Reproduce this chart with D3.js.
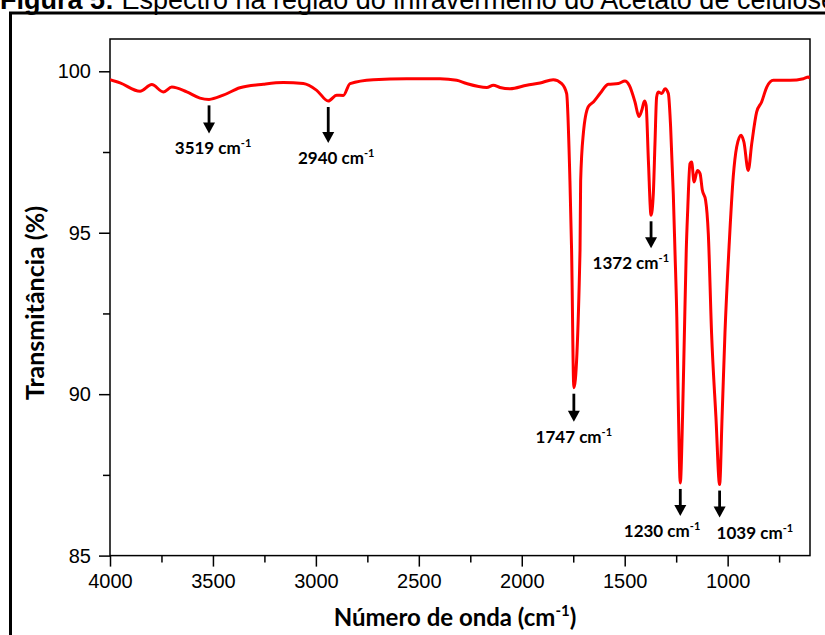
<!DOCTYPE html>
<html>
<head>
<meta charset="utf-8">
<script src="https://cdn.jsdelivr.net/npm/d3@7"></script>
<style>
  body { margin: 0; background: #fff; }
  svg { display: block; }
</style>
</head>
<body>
<svg id="chart" width="825" height="635"></svg>
<script>
// FTIR spectrum of cellulose acetate: wavenumber (cm-1) and transmittance (%)
const wavenumber = [
  4000, 3951, 3854, 3797, 3741, 3700, 3627, 3563, 3519, 3450,
  3369, 3255, 3158, 3061, 2996, 2940, 2899, 2867, 2834, 2721,
  2559, 2397, 2316, 2268, 2170, 2138, 2106, 2057, 1976, 1911,
  1847, 1806, 1782, 1766, 1758, 1747, 1717, 1714, 1701, 1677,
  1652, 1620, 1580, 1531, 1499, 1478, 1450, 1431, 1417, 1404,
  1396, 1385, 1372, 1361, 1353, 1345, 1337, 1320, 1304, 1288,
  1277, 1264, 1256, 1247, 1240, 1230, 1219, 1210, 1201, 1194,
  1183, 1175, 1163, 1147, 1134, 1123, 1107, 1094, 1078, 1057,
  1039, 1027, 1013, 992, 973, 956, 935, 921, 900, 883,
  859, 835, 810, 778, 697, 632, 608, 600
];
const transmittance = [
  99.74, 99.64, 99.38, 99.59, 99.36, 99.51, 99.36, 99.17, 99.13, 99.26,
  99.49, 99.60, 99.65, 99.62, 99.41, 99.08, 99.26, 99.25, 99.62, 99.74,
  99.77, 99.77, 99.72, 99.62, 99.50, 99.57, 99.50, 99.46, 99.57, 99.64,
  99.74, 99.62, 99.31, 96.60, 94.46, 90.20, 94.46, 96.60, 98.07, 98.90,
  99.05, 99.31, 99.60, 99.62, 99.70, 99.57, 99.05, 98.60, 98.79, 99.08,
  98.95, 97.24, 95.54, 96.21, 97.76, 99.20, 99.36, 99.31, 99.46, 99.31,
  98.28, 96.20, 94.46, 92.40, 89.80, 87.25, 89.30, 91.90, 94.46, 95.70,
  97.14, 97.19, 96.57, 96.93, 96.83, 96.32, 96.00, 94.98, 91.88, 89.30,
  87.20, 89.30, 91.90, 94.70, 96.72, 97.66, 98.02, 97.81, 96.93, 97.76,
  98.74, 99.05, 99.51, 99.72, 99.72, 99.77, 99.82, 99.78
];

// Axis ticks
const xTickValues = [4000, 3500, 3000, 2500, 2000, 1500, 1000];
const xMinorTicks = [3750, 3250, 2750, 2250, 1750, 1250, 750];
const yTickValues = [85, 90, 95, 100];
const yMinorTicks = [87.5, 92.5, 97.5];

// Labelled absorption bands (cm-1)
const bandPositions = [3519, 2940, 1747, 1372, 1230, 1039];

// Texts
const titleBold = "Figura 5:";
const titleRest = " Espectro na região do infravermelho do Acetato de celulose";
const xTitle = "Número de onda (cm";
const yTitle = "Transmitância (%)";

const svg = d3.select("#chart");
const plot = { left: 110, right: 810, top: 39, bottom: 555.6 };

const x = d3.scaleLinear().domain([4000, 600]).range([plot.left, plot.right]);
const y = d3.scaleLinear().domain([85, 101]).range([plot.bottom, plot.top]);

// Figure title, partly above the page edge
const title = svg.append("text")
  .attr("x", 0).attr("y", 9)
  .attr("font-family", "'Liberation Sans', Arial, sans-serif")
  .attr("font-size", 27)
  .attr("fill", "#000");
title.append("tspan").attr("font-weight", "bold").text(titleBold);
title.append("tspan").attr("font-weight", "normal").text(titleRest);

// Outer figure frame
svg.append("rect")
  .attr("x", 10.5).attr("y", 13)
  .attr("width", 900).attr("height", 800)
  .attr("fill", "none").attr("stroke", "#000").attr("stroke-width", 3);

// Clip for the spectrum
svg.append("defs").append("clipPath").attr("id", "plot-clip")
  .append("rect")
  .attr("x", plot.left).attr("y", plot.top)
  .attr("width", plot.right - plot.left).attr("height", plot.bottom - plot.top);

const tickFont = "'Liberation Sans', Arial, sans-serif";

// X axis (major + minor)
svg.append("g")
  .attr("transform", `translate(0,${plot.bottom})`)
  .call(d3.axisBottom(x).tickValues(xTickValues).tickSize(11).tickPadding(7)
    .tickFormat(d3.format("d")));
svg.append("g")
  .attr("transform", `translate(0,${plot.bottom})`)
  .call(d3.axisBottom(x).tickValues(xMinorTicks).tickSize(7).tickFormat(""));

// Y axis (major + minor)
svg.append("g")
  .attr("transform", `translate(${plot.left},0)`)
  .call(d3.axisLeft(y).tickValues(yTickValues).tickSize(11).tickPadding(8)
    .tickFormat(d3.format("d")));
svg.append("g")
  .attr("transform", `translate(${plot.left},0)`)
  .call(d3.axisLeft(y).tickValues(yMinorTicks).tickSize(7).tickFormat(""));

svg.selectAll(".tick line").attr("stroke", "#000").attr("stroke-width", 1.5);
svg.selectAll(".domain").remove();
svg.selectAll(".tick text")
  .attr("font-family", tickFont).attr("font-size", 20).attr("fill", "#000");

// Plot frame
svg.append("rect")
  .attr("x", plot.left).attr("y", plot.top)
  .attr("width", plot.right - plot.left).attr("height", plot.bottom - plot.top)
  .attr("fill", "none").attr("stroke", "#000").attr("stroke-width", 1.5);

// Spectrum
const points = wavenumber.map((w, i) => [w, transmittance[i]]);
svg.append("path")
  .datum(points)
  .attr("clip-path", "url(#plot-clip)")
  .attr("fill", "none")
  .attr("stroke", "#ff0000")
  .attr("stroke-width", 3)
  .attr("stroke-linejoin", "round")
  .attr("d", d3.line().x(d => x(d[0])).y(d => y(d[1])).curve(d3.curveMonotoneX));

// Band annotations: arrow under each minimum and a label
const labelLayout = {
  3519: { anchor: "middle", dx: 4, len: 28 },
  2940: { anchor: "middle", dx: 8, len: 36 },
  1747: { anchor: "middle", dx: 0, len: 28 },
  1372: { anchor: "end", dx: 18, len: 27 },
  1230: { anchor: "end", dx: 20, len: 27 },
  1039: { anchor: "start", dx: -3, len: 27 }
};
const annoFont = "Lato, 'Open Sans', sans-serif";
const ann = svg.append("g");
bandPositions.forEach(w => {
  const t = transmittance[wavenumber.indexOf(w)];
  const lay = labelLayout[w];
  const ax = x(w);
  const y0 = y(t) + 6;
  const y1 = y0 + lay.len;
  ann.append("line")
    .attr("x1", ax).attr("x2", ax)
    .attr("y1", y0).attr("y2", y1 - 8)
    .attr("stroke", "#000").attr("stroke-width", 2.8);
  ann.append("path")
    .attr("d", `M${ax - 6},${y1 - 11} L${ax + 6},${y1 - 11} L${ax},${y1} Z`)
    .attr("fill", "#000");
  const label = ann.append("text")
    .attr("x", ax + lay.dx).attr("y", y1 + 21)
    .attr("text-anchor", lay.anchor)
    .attr("font-family", annoFont).attr("font-weight", "bold")
    .attr("font-size", 17).attr("fill", "#000");
  label.append("tspan").text(`${w} cm`);
  label.append("tspan").attr("font-size", 11).attr("dy", -7).text("-1");
});

// Axis titles
const xt = svg.append("text")
  .attr("x", 455).attr("y", 626)
  .attr("text-anchor", "middle")
  .attr("font-family", annoFont).attr("font-weight", "bold")
  .attr("font-size", 24).attr("fill", "#000");
xt.append("tspan").text(xTitle);
xt.append("tspan").attr("font-size", 15).attr("dy", -10).text("-1");
xt.append("tspan").attr("dy", 10).text(")");

svg.append("text")
  .attr("transform", "translate(44,303) rotate(-90)")
  .attr("text-anchor", "middle")
  .attr("font-family", annoFont).attr("font-weight", "bold")
  .attr("font-size", 25).attr("fill", "#000")
  .text(yTitle);
</script>
</body>
</html>
